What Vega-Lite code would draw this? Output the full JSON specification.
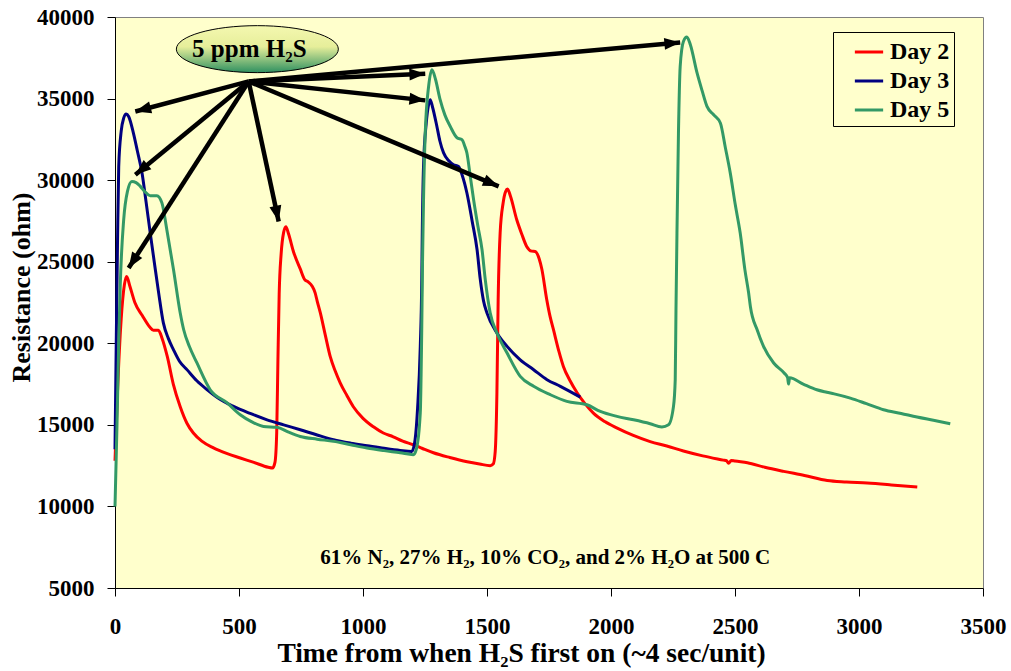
{
  "$schema": "https://vega.github.io/schema/vega-lite/v6.json",
  "autosize": {"type": "none"},
  "padding": {"left": 115, "top": 17, "right": 28, "bottom": 83},
  "width": 868,
  "height": 571,
  "background": "white",
  "config": {
    "view": {"fill": "#FFFFCC", "stroke": "#808080", "strokeWidth": 1},
    "axis": {
      "grid": false,
      "domainColor": "black",
      "tickColor": "black",
      "tickSize": 8,
      "labelFont": "Liberation Serif",
      "labelFontWeight": "bold",
      "labelFontSize": 23,
      "labelColor": "black",
      "titleFont": "Liberation Serif",
      "titleFontWeight": "bold",
      "titleFontSize": 27,
      "titleColor": "black"
    },
    "legend": {
      "labelFont": "Liberation Serif",
      "labelFontWeight": "bold",
      "labelFontSize": 24,
      "labelColor": "black"
    }
  },
  "datasets": {
    "series": [
      {"day": "Day 2", "t": 0, "r": 12800}, {"day": "Day 2", "t": 10, "r": 17000}, {"day": "Day 2", "t": 25, "r": 21500}, {"day": "Day 2", "t": 38, "r": 23600}, {"day": "Day 2", "t": 47, "r": 24100}, {"day": "Day 2", "t": 60, "r": 23500}, {"day": "Day 2", "t": 80, "r": 22500}, {"day": "Day 2", "t": 110, "r": 21700}, {"day": "Day 2", "t": 140, "r": 21000}, {"day": "Day 2", "t": 155, "r": 20800}, {"day": "Day 2", "t": 175, "r": 20800}, {"day": "Day 2", "t": 190, "r": 20300}, {"day": "Day 2", "t": 211, "r": 19180}, {"day": "Day 2", "t": 235, "r": 17500}, {"day": "Day 2", "t": 263, "r": 16110}, {"day": "Day 2", "t": 290, "r": 15100}, {"day": "Day 2", "t": 316, "r": 14500}, {"day": "Day 2", "t": 350, "r": 14000}, {"day": "Day 2", "t": 397, "r": 13590}, {"day": "Day 2", "t": 450, "r": 13250}, {"day": "Day 2", "t": 505, "r": 12970}, {"day": "Day 2", "t": 560, "r": 12700}, {"day": "Day 2", "t": 618, "r": 12400}, {"day": "Day 2", "t": 635, "r": 12350}, {"day": "Day 2", "t": 645, "r": 12700}, {"day": "Day 2", "t": 652, "r": 14500}, {"day": "Day 2", "t": 657, "r": 19000}, {"day": "Day 2", "t": 662, "r": 23000}, {"day": "Day 2", "t": 670, "r": 25500}, {"day": "Day 2", "t": 680, "r": 26800}, {"day": "Day 2", "t": 689, "r": 27150}, {"day": "Day 2", "t": 700, "r": 26700}, {"day": "Day 2", "t": 720, "r": 25600}, {"day": "Day 2", "t": 747, "r": 24560}, {"day": "Day 2", "t": 765, "r": 23900}, {"day": "Day 2", "t": 780, "r": 23750}, {"day": "Day 2", "t": 795, "r": 23500}, {"day": "Day 2", "t": 807, "r": 23090}, {"day": "Day 2", "t": 815, "r": 22600}, {"day": "Day 2", "t": 828, "r": 21860}, {"day": "Day 2", "t": 848, "r": 20500}, {"day": "Day 2", "t": 868, "r": 19180}, {"day": "Day 2", "t": 888, "r": 18300}, {"day": "Day 2", "t": 908, "r": 17580}, {"day": "Day 2", "t": 935, "r": 16800}, {"day": "Day 2", "t": 961, "r": 16110}, {"day": "Day 2", "t": 1000, "r": 15400}, {"day": "Day 2", "t": 1042, "r": 14880}, {"day": "Day 2", "t": 1082, "r": 14500}, {"day": "Day 2", "t": 1122, "r": 14270}, {"day": "Day 2", "t": 1160, "r": 14000}, {"day": "Day 2", "t": 1203, "r": 13780}, {"day": "Day 2", "t": 1240, "r": 13550}, {"day": "Day 2", "t": 1284, "r": 13290}, {"day": "Day 2", "t": 1350, "r": 13000}, {"day": "Day 2", "t": 1420, "r": 12740}, {"day": "Day 2", "t": 1470, "r": 12600}, {"day": "Day 2", "t": 1513, "r": 12500}, {"day": "Day 2", "t": 1525, "r": 12600}, {"day": "Day 2", "t": 1533, "r": 13350}, {"day": "Day 2", "t": 1540, "r": 17000}, {"day": "Day 2", "t": 1545, "r": 22650}, {"day": "Day 2", "t": 1553, "r": 26770}, {"day": "Day 2", "t": 1565, "r": 28600}, {"day": "Day 2", "t": 1575, "r": 29300}, {"day": "Day 2", "t": 1583, "r": 29450}, {"day": "Day 2", "t": 1595, "r": 29000}, {"day": "Day 2", "t": 1620, "r": 27570}, {"day": "Day 2", "t": 1640, "r": 26700}, {"day": "Day 2", "t": 1660, "r": 25940}, {"day": "Day 2", "t": 1680, "r": 25650}, {"day": "Day 2", "t": 1694, "r": 25630}, {"day": "Day 2", "t": 1710, "r": 25200}, {"day": "Day 2", "t": 1721, "r": 24550}, {"day": "Day 2", "t": 1741, "r": 22670}, {"day": "Day 2", "t": 1755, "r": 21600}, {"day": "Day 2", "t": 1768, "r": 20830}, {"day": "Day 2", "t": 1790, "r": 19500}, {"day": "Day 2", "t": 1808, "r": 18580}, {"day": "Day 2", "t": 1835, "r": 17700}, {"day": "Day 2", "t": 1864, "r": 16950}, {"day": "Day 2", "t": 1895, "r": 16300}, {"day": "Day 2", "t": 1929, "r": 15720}, {"day": "Day 2", "t": 1975, "r": 15200}, {"day": "Day 2", "t": 2025, "r": 14800}, {"day": "Day 2", "t": 2090, "r": 14350}, {"day": "Day 2", "t": 2158, "r": 13970}, {"day": "Day 2", "t": 2225, "r": 13700}, {"day": "Day 2", "t": 2292, "r": 13400}, {"day": "Day 2", "t": 2370, "r": 13100}, {"day": "Day 2", "t": 2453, "r": 12840}, {"day": "Day 2", "t": 2466, "r": 12800}, {"day": "Day 2", "t": 2474, "r": 12650}, {"day": "Day 2", "t": 2485, "r": 12820}, {"day": "Day 2", "t": 2500, "r": 12780}, {"day": "Day 2", "t": 2550, "r": 12680}, {"day": "Day 2", "t": 2620, "r": 12400}, {"day": "Day 2", "t": 2696, "r": 12150}, {"day": "Day 2", "t": 2780, "r": 11900}, {"day": "Day 2", "t": 2872, "r": 11590}, {"day": "Day 2", "t": 2950, "r": 11500}, {"day": "Day 2", "t": 3033, "r": 11430}, {"day": "Day 2", "t": 3130, "r": 11320}, {"day": "Day 2", "t": 3235, "r": 11190},

      {"day": "Day 3", "t": 0, "r": 13500}, {"day": "Day 3", "t": 5, "r": 20000}, {"day": "Day 3", "t": 10, "r": 26000}, {"day": "Day 3", "t": 15, "r": 30840}, {"day": "Day 3", "t": 25, "r": 33000}, {"day": "Day 3", "t": 35, "r": 33800}, {"day": "Day 3", "t": 45, "r": 34050}, {"day": "Day 3", "t": 55, "r": 33900}, {"day": "Day 3", "t": 74, "r": 32900}, {"day": "Day 3", "t": 90, "r": 31800}, {"day": "Day 3", "t": 109, "r": 30440}, {"day": "Day 3", "t": 125, "r": 28700}, {"day": "Day 3", "t": 142, "r": 26770}, {"day": "Day 3", "t": 160, "r": 24800}, {"day": "Day 3", "t": 176, "r": 23090}, {"day": "Day 3", "t": 195, "r": 21250}, {"day": "Day 3", "t": 215, "r": 20300}, {"day": "Day 3", "t": 236, "r": 19600}, {"day": "Day 3", "t": 260, "r": 18900}, {"day": "Day 3", "t": 291, "r": 18370}, {"day": "Day 3", "t": 330, "r": 17700}, {"day": "Day 3", "t": 372, "r": 17150}, {"day": "Day 3", "t": 420, "r": 16600}, {"day": "Day 3", "t": 478, "r": 16130}, {"day": "Day 3", "t": 545, "r": 15700}, {"day": "Day 3", "t": 613, "r": 15310}, {"day": "Day 3", "t": 680, "r": 15000}, {"day": "Day 3", "t": 747, "r": 14700}, {"day": "Day 3", "t": 815, "r": 14380}, {"day": "Day 3", "t": 881, "r": 14090}, {"day": "Day 3", "t": 950, "r": 13880}, {"day": "Day 3", "t": 1017, "r": 13720}, {"day": "Day 3", "t": 1085, "r": 13560}, {"day": "Day 3", "t": 1150, "r": 13430}, {"day": "Day 3", "t": 1197, "r": 13370}, {"day": "Day 3", "t": 1210, "r": 14090}, {"day": "Day 3", "t": 1220, "r": 16000}, {"day": "Day 3", "t": 1231, "r": 19810}, {"day": "Day 3", "t": 1237, "r": 23900}, {"day": "Day 3", "t": 1239, "r": 26770}, {"day": "Day 3", "t": 1244, "r": 30840}, {"day": "Day 3", "t": 1255, "r": 33500}, {"day": "Day 3", "t": 1264, "r": 34600}, {"day": "Day 3", "t": 1271, "r": 34930}, {"day": "Day 3", "t": 1280, "r": 34500}, {"day": "Day 3", "t": 1298, "r": 33290}, {"day": "Day 3", "t": 1310, "r": 32400}, {"day": "Day 3", "t": 1325, "r": 31670}, {"day": "Day 3", "t": 1345, "r": 31200}, {"day": "Day 3", "t": 1365, "r": 30940}, {"day": "Day 3", "t": 1385, "r": 30840}, {"day": "Day 3", "t": 1400, "r": 30300}, {"day": "Day 3", "t": 1419, "r": 29210}, {"day": "Day 3", "t": 1440, "r": 27500}, {"day": "Day 3", "t": 1460, "r": 25730}, {"day": "Day 3", "t": 1473, "r": 23900}, {"day": "Day 3", "t": 1486, "r": 22600}, {"day": "Day 3", "t": 1500, "r": 21850}, {"day": "Day 3", "t": 1540, "r": 20630}, {"day": "Day 3", "t": 1581, "r": 19810}, {"day": "Day 3", "t": 1634, "r": 18990}, {"day": "Day 3", "t": 1688, "r": 18380}, {"day": "Day 3", "t": 1742, "r": 17770}, {"day": "Day 3", "t": 1796, "r": 17360}, {"day": "Day 3", "t": 1876, "r": 16700},

      {"day": "Day 5", "t": 0, "r": 10000}, {"day": "Day 5", "t": 8, "r": 15000}, {"day": "Day 5", "t": 15, "r": 20000}, {"day": "Day 5", "t": 21, "r": 23480}, {"day": "Day 5", "t": 35, "r": 27570}, {"day": "Day 5", "t": 50, "r": 29300}, {"day": "Day 5", "t": 68, "r": 29920}, {"day": "Day 5", "t": 85, "r": 29850}, {"day": "Day 5", "t": 102, "r": 29620}, {"day": "Day 5", "t": 120, "r": 29300}, {"day": "Day 5", "t": 142, "r": 29050}, {"day": "Day 5", "t": 169, "r": 29050}, {"day": "Day 5", "t": 189, "r": 28620}, {"day": "Day 5", "t": 209, "r": 26960}, {"day": "Day 5", "t": 236, "r": 24510}, {"day": "Day 5", "t": 263, "r": 21860}, {"day": "Day 5", "t": 277, "r": 20830}, {"day": "Day 5", "t": 300, "r": 19800}, {"day": "Day 5", "t": 330, "r": 18810}, {"day": "Day 5", "t": 384, "r": 17150}, {"day": "Day 5", "t": 451, "r": 16360}, {"day": "Day 5", "t": 505, "r": 15620}, {"day": "Day 5", "t": 550, "r": 15200}, {"day": "Day 5", "t": 599, "r": 14900}, {"day": "Day 5", "t": 653, "r": 14850}, {"day": "Day 5", "t": 700, "r": 14550}, {"day": "Day 5", "t": 747, "r": 14290}, {"day": "Day 5", "t": 815, "r": 14120}, {"day": "Day 5", "t": 881, "r": 13990}, {"day": "Day 5", "t": 950, "r": 13780}, {"day": "Day 5", "t": 1016, "r": 13580}, {"day": "Day 5", "t": 1085, "r": 13420}, {"day": "Day 5", "t": 1150, "r": 13290}, {"day": "Day 5", "t": 1203, "r": 13170}, {"day": "Day 5", "t": 1215, "r": 13500}, {"day": "Day 5", "t": 1231, "r": 15740}, {"day": "Day 5", "t": 1237, "r": 21000}, {"day": "Day 5", "t": 1240, "r": 25000}, {"day": "Day 5", "t": 1244, "r": 28800}, {"day": "Day 5", "t": 1251, "r": 32900}, {"day": "Day 5", "t": 1265, "r": 35800}, {"day": "Day 5", "t": 1278, "r": 36770}, {"day": "Day 5", "t": 1292, "r": 36200}, {"day": "Day 5", "t": 1311, "r": 34930}, {"day": "Day 5", "t": 1330, "r": 34000}, {"day": "Day 5", "t": 1352, "r": 33290}, {"day": "Day 5", "t": 1379, "r": 32600}, {"day": "Day 5", "t": 1399, "r": 32480}, {"day": "Day 5", "t": 1410, "r": 32100}, {"day": "Day 5", "t": 1419, "r": 31660}, {"day": "Day 5", "t": 1432, "r": 30300}, {"day": "Day 5", "t": 1446, "r": 28800}, {"day": "Day 5", "t": 1463, "r": 27200}, {"day": "Day 5", "t": 1480, "r": 25730}, {"day": "Day 5", "t": 1493, "r": 23900}, {"day": "Day 5", "t": 1513, "r": 21850}, {"day": "Day 5", "t": 1540, "r": 20630}, {"day": "Day 5", "t": 1581, "r": 19400}, {"day": "Day 5", "t": 1634, "r": 17970}, {"day": "Day 5", "t": 1688, "r": 17360}, {"day": "Day 5", "t": 1755, "r": 16850}, {"day": "Day 5", "t": 1822, "r": 16440}, {"day": "Day 5", "t": 1903, "r": 16230}, {"day": "Day 5", "t": 1957, "r": 15820}, {"day": "Day 5", "t": 2024, "r": 15520}, {"day": "Day 5", "t": 2091, "r": 15310}, {"day": "Day 5", "t": 2158, "r": 15070}, {"day": "Day 5", "t": 2205, "r": 14870}, {"day": "Day 5", "t": 2232, "r": 15000}, {"day": "Day 5", "t": 2252, "r": 16130}, {"day": "Day 5", "t": 2259, "r": 17770}, {"day": "Day 5", "t": 2262, "r": 22000}, {"day": "Day 5", "t": 2266, "r": 26770}, {"day": "Day 5", "t": 2272, "r": 32880}, {"day": "Day 5", "t": 2279, "r": 36970}, {"day": "Day 5", "t": 2292, "r": 38500}, {"day": "Day 5", "t": 2306, "r": 38770}, {"day": "Day 5", "t": 2320, "r": 38300}, {"day": "Day 5", "t": 2347, "r": 36570}, {"day": "Day 5", "t": 2367, "r": 35500}, {"day": "Day 5", "t": 2387, "r": 34520}, {"day": "Day 5", "t": 2414, "r": 34010}, {"day": "Day 5", "t": 2441, "r": 33500}, {"day": "Day 5", "t": 2461, "r": 32000}, {"day": "Day 5", "t": 2481, "r": 30430}, {"day": "Day 5", "t": 2501, "r": 28500}, {"day": "Day 5", "t": 2521, "r": 26760}, {"day": "Day 5", "t": 2540, "r": 24500}, {"day": "Day 5", "t": 2555, "r": 23080}, {"day": "Day 5", "t": 2562, "r": 22260}, {"day": "Day 5", "t": 2590, "r": 20800}, {"day": "Day 5", "t": 2615, "r": 19810}, {"day": "Day 5", "t": 2656, "r": 18790}, {"day": "Day 5", "t": 2700, "r": 18150}, {"day": "Day 5", "t": 2712, "r": 17900}, {"day": "Day 5", "t": 2716, "r": 17500}, {"day": "Day 5", "t": 2720, "r": 17880}, {"day": "Day 5", "t": 2775, "r": 17500}, {"day": "Day 5", "t": 2830, "r": 17150}, {"day": "Day 5", "t": 2870, "r": 17000}, {"day": "Day 5", "t": 2900, "r": 16900}, {"day": "Day 5", "t": 2965, "r": 16640}, {"day": "Day 5", "t": 3030, "r": 16300}, {"day": "Day 5", "t": 3099, "r": 15930}, {"day": "Day 5", "t": 3170, "r": 15700}, {"day": "Day 5", "t": 3234, "r": 15480}, {"day": "Day 5", "t": 3300, "r": 15280}, {"day": "Day 5", "t": 3368, "r": 15070}
    ],
    "arrows": [
      {"sx": 539, "sy": 36050, "tx": 82, "ty": 34210},
      {"sx": 539, "sy": 36050, "tx": 82, "ty": 30330},
      {"sx": 539, "sy": 36050, "tx": 55, "ty": 24610},
      {"sx": 539, "sy": 36050, "tx": 660, "ty": 27470},
      {"sx": 539, "sy": 36050, "tx": 1251, "ty": 36520},
      {"sx": 539, "sy": 36050, "tx": 1251, "ty": 34890},
      {"sx": 539, "sy": 36050, "tx": 1547, "ty": 29620},
      {"sx": 539, "sy": 36050, "tx": 2279, "ty": 38440}
    ],
    "labels": [
      {"t": 574, "r": 38030, "text": "5 ppm H₂S"}
    ],
    "notes": [
      {"t": 1735, "r": 6855, "text": "61% N₂, 27% H₂, 10% CO₂, and 2% H₂O at 500 C"}
    ]
  },
  "layer": [
    {
      "data": {"name": "series"},
      "mark": {"type": "line", "strokeWidth": 3, "interpolate": "monotone"},
      "encoding": {
        "x": {
          "field": "t", "type": "quantitative",
          "title": "Time from when H₂S first on (~4 sec/unit)",
          "scale": {"domain": [0, 3500], "nice": false, "zero": false},
          "axis": {
            "values": [0, 500, 1000, 1500, 2000, 2500, 3000, 3500],
            "format": "d",
            "labelPadding": 19, "titlePadding": 1, "labelFlush": false,
            "titleX": 406, "titleAlign": "center", "titleFontSize": 27.5
          }
        },
        "y": {
          "field": "r", "type": "quantitative",
          "title": "Resistance (ohm)",
          "scale": {"domain": [5000, 40000], "nice": false, "zero": false},
          "axis": {
            "values": [5000, 10000, 15000, 20000, 25000, 30000, 35000, 40000],
            "format": "d",
            "labelPadding": 13, "titlePadding": 2,
            "titleY": 270, "titleAlign": "center", "titleFontSize": 26
          }
        },
        "color": {
          "field": "day", "type": "nominal",
          "scale": {"domain": ["Day 2", "Day 3", "Day 5"], "range": ["#FF0000", "#000080", "#339966"]},
          "legend": {
            "title": null, "orient": "none", "legendX": 718, "legendY": 15,
            "symbolType": "stroke", "symbolStrokeWidth": 3, "symbolSize": 800,
            "symbolOffset": 16,
            "strokeColor": "black", "fillColor": "#FFFFCC", "padding": 4,
            "rowPadding": 1, "labelOffset": 5
          }
        }
      }
    },
    {
      "data": {"name": "arrows"},
      "mark": {"type": "rule", "color": "black", "strokeWidth": 4.5},
      "encoding": {
        "x": {"field": "sx", "type": "quantitative", "title": "Time from when H₂S first on (~4 sec/unit)", "scale": {"domain": [0, 3500], "nice": false}},
        "y": {"field": "sy", "type": "quantitative", "title": "Resistance (ohm)", "scale": {"domain": [5000, 40000], "nice": false}},
        "x2": {"field": "tx"},
        "y2": {"field": "ty"}
      }
    },
    {
      "data": {"name": "arrows"},
      "transform": [
        {"calculate": "atan2(-(datum.ty - datum.sy) * 571 / 35000, (datum.tx - datum.sx) * 868 / 3500) * 180 / PI", "as": "ang"}
      ],
      "mark": {"type": "point", "shape": "M0,0 L-1,-0.38 L-1,0.38 Z", "filled": true, "color": "black", "opacity": 1, "size": 1000},
      "encoding": {
        "x": {"field": "tx", "type": "quantitative", "title": "Time from when H₂S first on (~4 sec/unit)", "scale": {"domain": [0, 3500], "nice": false}},
        "y": {"field": "ty", "type": "quantitative", "title": "Resistance (ohm)", "scale": {"domain": [5000, 40000], "nice": false}},
        "angle": {"field": "ang", "type": "quantitative", "scale": null}
      }
    },
    {
      "data": {"name": "labels"},
      "mark": {
        "type": "point",
        "shape": "M-1,0 A1,0.29 0 1,1 1,0 A1,0.29 0 1,1 -1,0 Z",
        "filled": true, "opacity": 1, "size": 26244,
        "fill": {"gradient": "linear", "x1": 0, "y1": 0, "x2": 0, "y2": 1,
          "stops": [{"offset": 0, "color": "#F4F8B0"}, {"offset": 0.45, "color": "#E6EE9A"}, {"offset": 1, "color": "#2E9060"}]},
        "stroke": "black", "strokeWidth": 1
      },
      "encoding": {
        "x": {"field": "t", "type": "quantitative", "title": "Time from when H₂S first on (~4 sec/unit)", "scale": {"domain": [0, 3500], "nice": false}},
        "y": {"field": "r", "type": "quantitative", "title": "Resistance (ohm)", "scale": {"domain": [5000, 40000], "nice": false}}
      }
    },
    {
      "data": {"name": "labels"},
      "mark": {"type": "text", "font": "Liberation Serif", "fontWeight": "bold", "fontSize": 25, "color": "black", "baseline": "middle", "align": "center", "dx": -8},
      "encoding": {
        "x": {"field": "t", "type": "quantitative", "title": "Time from when H₂S first on (~4 sec/unit)", "scale": {"domain": [0, 3500], "nice": false}},
        "y": {"field": "r", "type": "quantitative", "title": "Resistance (ohm)", "scale": {"domain": [5000, 40000], "nice": false}},
        "text": {"field": "text"}
      }
    },
    {
      "data": {"name": "notes"},
      "mark": {"type": "text", "font": "Liberation Serif", "fontWeight": "bold", "fontSize": 21, "color": "black", "baseline": "middle", "align": "center"},
      "encoding": {
        "x": {"field": "t", "type": "quantitative", "title": "Time from when H₂S first on (~4 sec/unit)", "scale": {"domain": [0, 3500], "nice": false}},
        "y": {"field": "r", "type": "quantitative", "title": "Resistance (ohm)", "scale": {"domain": [5000, 40000], "nice": false}},
        "text": {"field": "text"}
      }
    }
  ]
}
